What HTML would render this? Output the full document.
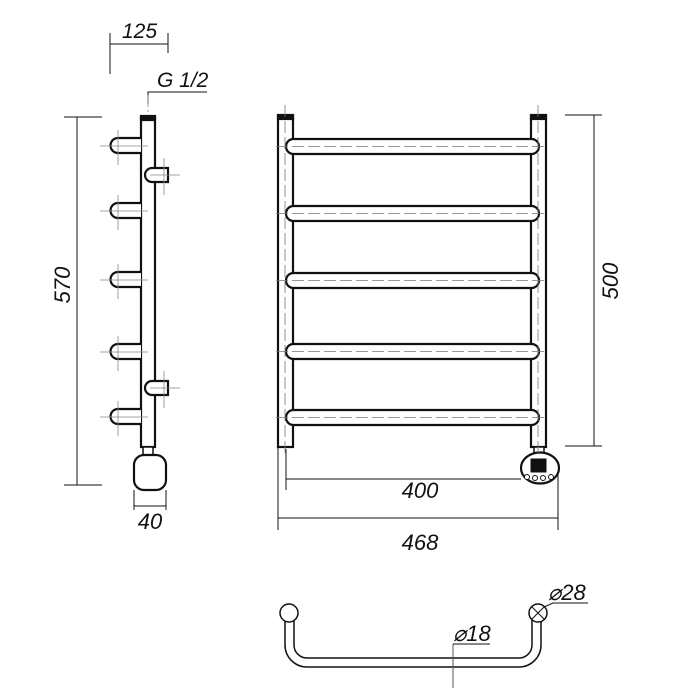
<!DOCTYPE html>
<html><head><meta charset="utf-8"><style>html,body{margin:0;padding:0;background:#fff}svg{display:block}text{font-family:"Liberation Sans",sans-serif;font-style:italic;fill:#111}</style></head><body>
<svg width="700" height="700" viewBox="0 0 700 700" xmlns="http://www.w3.org/2000/svg">
<g fill="none" stroke="#111" stroke-width="1">
<line x1="110" y1="33" x2="110" y2="74"/><line x1="168" y1="33" x2="168" y2="53"/><line x1="110" y1="44" x2="168" y2="44"/>
<polyline points="148,104 148,92 207,92"/>
<line x1="77" y1="117" x2="77" y2="485"/><line x1="64" y1="117" x2="102" y2="117"/><line x1="64" y1="485" x2="102" y2="485"/>
<line x1="134" y1="490" x2="134" y2="510"/><line x1="166" y1="490" x2="166" y2="510"/><line x1="134" y1="506" x2="166" y2="506"/>
</g>
<g fill="none" stroke="#888" stroke-width="0.8">
<line x1="148" y1="95" x2="148" y2="460" stroke-dasharray="12,3,2,3"/>
</g>
<g stroke="#111" stroke-width="2.2" fill="#fff">
<rect x="141" y="117" width="14" height="330"/>
<rect x="141" y="116" width="14" height="4" fill="#111"/>
<g id="stub"><path d="M141,138 H118 A7.5,7.5 0 0 0 118,153 H141"/></g>
<use href="#stub" y="65"/><use href="#stub" y="134"/><use href="#stub" y="206"/><use href="#stub" y="271"/>
<path d="M152,168 H168 V182 H152 A7,7 0 0 1 152,168Z"/>
<path d="M152,381 H168 V395 H152 A7,7 0 0 1 152,381Z"/>
<rect x="143" y="447" width="10" height="8" stroke-width="1.5"/>
<rect x="134" y="455" width="32" height="35" rx="10"/>
</g>
<g stroke="#888" stroke-width="0.8">
<g id="cr"><line x1="118" y1="130" x2="118" y2="165"/><line x1="100" y1="146" x2="148" y2="146"/></g>
<use href="#cr" y="65"/><use href="#cr" y="134"/><use href="#cr" y="206"/><use href="#cr" y="271"/>
<line x1="164" y1="158" x2="164" y2="195"/><line x1="150" y1="175" x2="180" y2="175"/>
<line x1="164" y1="371" x2="164" y2="408"/><line x1="150" y1="388" x2="180" y2="388"/>
</g>
<g stroke="#111" stroke-width="2.2" fill="#fff">
<rect x="278" y="116" width="15" height="331"/>
<rect x="531" y="116" width="15" height="331"/>
<rect x="278" y="115" width="15" height="4" fill="#111"/>
<rect x="531" y="115" width="15" height="4" fill="#111"/>
<g id="rail"><rect x="286" y="139" width="253" height="15" rx="7.5"/></g>
<use href="#rail" y="67"/><use href="#rail" y="134"/><use href="#rail" y="205"/><use href="#rail" y="271"/>
<rect x="534" y="447" width="10" height="6" stroke-width="1.5"/>
<ellipse cx="540" cy="468" rx="19" ry="15.5"/>
<rect x="531" y="459" width="15" height="13" fill="#111" stroke-width="1"/>
<g stroke-width="1"><circle cx="527" cy="477" r="2.5"/><circle cx="535" cy="478" r="2.5"/><circle cx="543" cy="478" r="2.5"/><circle cx="551" cy="477" r="2.5"/></g>
</g>
<g stroke="#777" stroke-width="0.8" stroke-dasharray="12,4">
<line x1="285" y1="105" x2="285" y2="455"/><line x1="538" y1="105" x2="538" y2="455"/>
<line x1="276" y1="146.5" x2="548" y2="146.5"/><line x1="276" y1="213.5" x2="548" y2="213.5"/><line x1="276" y1="280.5" x2="548" y2="280.5"/><line x1="276" y1="351.5" x2="548" y2="351.5"/><line x1="276" y1="417.5" x2="548" y2="417.5"/>
</g>
<g fill="none" stroke="#111" stroke-width="1">
<line x1="565" y1="115" x2="602" y2="115"/><line x1="565" y1="446" x2="602" y2="446"/><line x1="594" y1="115" x2="594" y2="446"/>
<line x1="286" y1="449" x2="286" y2="490"/><line x1="286" y1="479" x2="521" y2="479"/>
<line x1="278" y1="447" x2="278" y2="530"/><line x1="558" y1="475" x2="558" y2="530"/><line x1="278" y1="518" x2="558" y2="518"/>
</g>
<g fill="none" stroke="#111" stroke-width="1.5">
<path d="M285,620 V645 A22,22 0 0 0 307,667 H519 A22,22 0 0 0 541,645 V620"/>
<path d="M294,620 V645 A13,13 0 0 0 307,658 H519 A13,13 0 0 0 532,645 V620"/>
<circle cx="289" cy="613" r="9" fill="#fff"/>
<circle cx="538" cy="613" r="9" fill="#fff"/>
<path d="M532,607 L544,619 M544,607 L532,619" stroke-width="1"/>
</g>
<g fill="none" stroke="#111" stroke-width="1">
<polyline points="544,607 553,603 588,603"/>
<line x1="453" y1="644" x2="453" y2="688" stroke="#555"/><line x1="453" y1="644" x2="490" y2="644"/>
</g>
<text x="122" y="38" font-size="21">125</text>
<text x="157" y="87" font-size="21">G 1/2</text>
<text transform="translate(70,285) rotate(-90)" font-size="22" text-anchor="middle">570</text>
<text x="150" y="529" font-size="22" text-anchor="middle">40</text>
<text transform="translate(618,281) rotate(-90)" font-size="22" text-anchor="middle">500</text>
<text x="420" y="498" font-size="22" text-anchor="middle">400</text>
<text x="420" y="550" font-size="22" text-anchor="middle">468</text>
<text x="548" y="600" font-size="22">⌀28</text>
<text x="453" y="641" font-size="22">⌀18</text>
</svg>
</body></html>
